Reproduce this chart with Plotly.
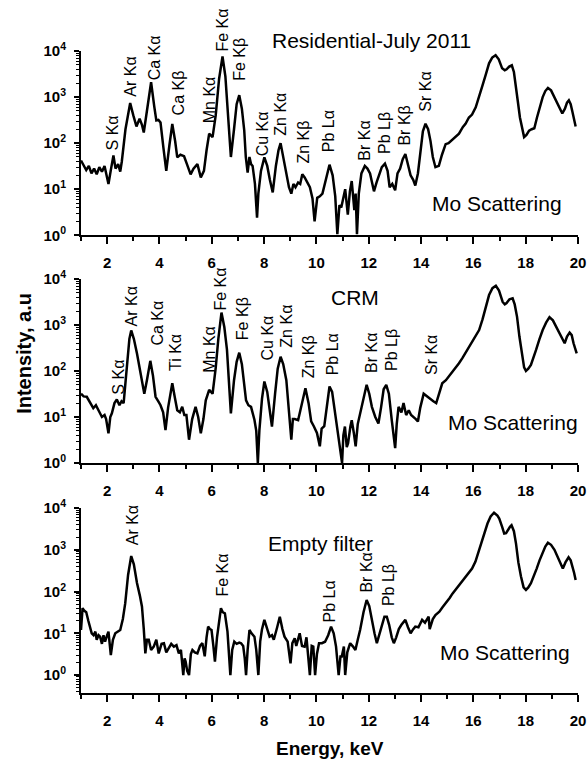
import plotly.graph_objects as go

# ---------------- data ----------------
res_E = [1.00,1.10,1.20,1.30,1.40,1.50,1.60,1.70,1.80,1.90,2.05,2.15,2.24,2.32,2.42,2.50,2.56,2.70,2.88,3.00,
         3.12,3.24,3.33,3.40,3.52,3.68,3.80,3.88,3.96,4.04,4.15,4.26,4.38,4.49,4.60,4.68,4.80,4.94,5.05,5.19,
         5.30,5.45,5.58,5.70,5.80,5.90,6.03,6.15,6.28,6.41,6.52,6.60,6.73,6.85,6.95,7.05,7.15,7.24,7.30,7.37,
         7.44,7.50,7.56,7.65,7.73,7.78,7.88,8.01,8.12,8.22,8.33,8.45,8.55,8.63,8.72,8.85,8.95,9.04,9.12,9.20,
         9.30,9.38,9.46,9.55,9.65,9.75,9.85,9.93,10.03,10.13,10.23,10.35,10.50,10.62,10.72,10.80,10.88,10.95,11.03,11.10,
         11.20,11.28,11.35,11.45,11.50,11.55,11.62,11.72,11.85,11.95,12.05,12.20,12.30,12.40,12.50,12.62,12.72,12.80,12.90,13.01,
         13.10,13.20,13.30,13.40,13.50,13.60,13.70,13.78,13.88,13.97,14.07,14.17,14.27,14.36,14.45,14.55,14.68,14.80,14.94,15.05,
         15.19,15.30,15.45,15.60,15.70,15.83,15.95,16.09,16.22,16.35,16.48,16.60,16.72,16.85,16.97,17.10,17.20,17.27,17.37,17.47,
         17.55,17.62,17.70,17.78,17.86,17.94,18.03,18.13,18.23,18.33,18.43,18.53,18.65,18.75,18.85,18.97,19.10,19.25,19.40,19.50,
         19.58,19.65,19.72,19.78,19.85,19.91]
res_I = [42,32,26,32,22,28,21,30,24,32,13,28,54,28,35,24,40,200,740,400,
         230,340,250,170,500,2100,630,310,320,280,80,25,90,260,110,49,56,52,35,21,
         28,35,18,25,70,160,135,400,2500,7600,2800,600,50,200,700,1100,560,190,50,23,
         50,35,32,13,2.4,8,25,49,32,16,8.5,32,70,100,56,21,11,8,13,11,
         14,13,21,18,14,11,6.3,2,6.5,7,8,16,34,20,7,1.05,4.5,4,7,10,
         2.8,9,15,3.5,8,1.05,8,22,32,28,22,9,14,20,30,36,25,11,13,9.5,
         22,28,45,58,35,20,16,12,22,70,180,263,200,112,50,30,32,56,95,100,
         117,132,160,224,263,360,417,600,1000,1800,3160,5400,7200,8100,6600,4200,3800,4000,4600,4900,
         3500,1950,800,360,200,135,150,186,200,210,355,600,1000,1350,1580,1400,1000,660,440,560,
         760,850,700,500,330,230]

crm_E = [1.00,1.10,1.22,1.35,1.47,1.57,1.67,1.80,1.90,1.96,2.05,2.12,2.18,2.28,2.37,2.47,2.55,2.63,2.70,2.76,
         2.85,2.92,3.02,3.14,3.28,3.42,3.52,3.65,3.75,3.85,3.95,4.04,4.14,4.23,4.33,4.49,4.58,4.68,4.78,4.87,
         4.95,5.03,5.13,5.25,5.38,5.48,5.58,5.68,5.77,5.90,6.03,6.15,6.25,6.37,6.48,6.58,6.73,6.85,6.95,7.05,
         7.15,7.31,7.40,7.50,7.63,7.70,7.76,7.82,7.92,8.01,8.12,8.22,8.30,8.42,8.52,8.63,8.73,8.85,8.91,8.97,
         9.04,9.10,9.17,9.30,9.45,9.58,9.70,9.80,9.90,10.02,10.13,10.20,10.30,10.40,10.50,10.60,10.70,10.80,10.90,10.98,
         11.03,11.09,11.16,11.21,11.30,11.35,11.43,11.50,11.58,11.67,11.80,11.92,12.02,12.12,12.25,12.37,12.47,12.57,12.67,12.77,
         12.88,12.95,13.01,13.07,13.14,13.25,13.33,13.43,13.53,13.62,13.72,13.80,13.88,13.97,14.10,14.22,14.36,14.47,14.58,14.70,
         14.81,14.95,15.06,15.20,15.32,15.45,15.58,15.70,15.83,15.95,16.08,16.22,16.35,16.47,16.60,16.73,16.86,16.98,17.12,17.20,
         17.27,17.38,17.50,17.58,17.67,17.76,17.86,17.94,18.01,18.10,18.20,18.30,18.40,18.52,18.65,18.78,18.91,19.04,19.17,19.33,
         19.49,19.58,19.68,19.76,19.83,19.95]
crm_I = [32,28,27.5,20,15.5,18,14,10,11,9,4.4,10,12,20,24,18,22,20,56,126,
         500,760,500,240,89,32,63,166,80,27.5,22,18,12.6,5.2,16,54,28,14,12.6,16.6,
         11,11,3.2,9,16.6,10,4.4,9,23,39,32,117,500,1860,890,290,12,63,158,250,
         141,23,18,16.6,8.7,5,1,5.2,25,59,35,12.6,6.2,32,112,204,141,63,25,8,
         3.2,9,9,8.5,22,42,20,8,6.3,4.5,2.3,5.6,6.3,20,46,35,14,5,1.9,1,
         4,6.2,2.2,2.7,6.3,8.5,4.5,2.3,7,12,25,50,32,16.6,10,7.2,16,40,50,32,
         8.5,4.5,2.1,7,16.6,12.6,20,11,14,11,10,9,8,16,32,28,25,22,20,35,
         54,63,76,93,112,148,190,250,340,417,560,776,1320,2500,4470,6300,7100,5600,3160,2800,
         3000,3630,3800,2800,1500,560,204,120,100,112,135,190,290,480,776,1120,1480,1260,910,600,
         400,560,680,600,400,240]

emp_E = [1.00,1.06,1.12,1.20,1.28,1.35,1.41,1.48,1.55,1.60,1.67,1.73,1.80,1.86,1.92,2.00,2.05,2.14,2.22,2.31,
         2.40,2.50,2.60,2.69,2.80,2.92,3.02,3.14,3.25,3.33,3.40,3.46,3.52,3.59,3.68,3.78,3.88,3.97,4.08,4.17,
         4.26,4.36,4.45,4.55,4.65,4.74,4.82,4.91,4.96,5.00,5.06,5.13,5.20,5.26,5.35,5.45,5.55,5.64,5.73,5.80,
         5.86,5.93,5.99,6.06,6.12,6.20,6.28,6.35,6.42,6.50,6.60,6.66,6.71,6.78,6.86,6.95,7.05,7.12,7.20,7.26,
         7.31,7.37,7.44,7.52,7.63,7.70,7.78,7.85,7.92,8.01,8.10,8.21,8.30,8.37,8.50,8.60,8.70,8.78,8.90,9.01,
         9.08,9.17,9.23,9.30,9.36,9.45,9.55,9.62,9.70,9.75,9.82,9.88,9.95,10.02,10.10,10.21,10.33,10.45,10.56,10.66,
         10.75,10.85,10.92,10.97,11.05,11.10,11.18,11.29,11.40,11.49,11.58,11.67,11.80,11.92,12.02,12.12,12.22,12.31,12.40,12.50,
         12.60,12.69,12.78,12.88,12.96,13.05,13.15,13.25,13.40,13.50,13.60,13.70,13.78,13.90,14.04,14.15,14.29,14.33,14.45,14.55,
         14.70,14.82,14.94,15.10,15.20,15.32,15.45,15.58,15.70,15.83,15.95,16.08,16.22,16.35,16.45,16.54,16.66,16.79,16.92,16.99,
         17.10,17.18,17.25,17.31,17.40,17.46,17.55,17.63,17.72,17.82,17.92,18.01,18.10,18.20,18.30,18.42,18.53,18.65,18.75,18.85,
         18.97,19.10,19.25,19.42,19.52,19.64,19.72,19.78,19.85,19.91]
emp_I = [12,40,35,32,20,14,10,9,11,7,9,8.3,5.6,9,6.3,9,11,3,7,10,
         11,12,22,52,250,710,450,160,80,44,12.6,3.3,7,7,4,4.8,7,3.3,5.6,5.8,
         3.5,4.4,5.6,4.8,5.2,3.3,4,1,2.5,2.1,1.26,1,3.2,4,3.5,3.3,5,5.8,2.8,8,
         14.5,12.6,12,5,2.1,8,22,40,32,30,11,3.2,1,4,6.3,5.6,6,5.8,5,2.5,
         1,4,12,10,8.3,4,1,6.3,12.6,21,14,8.3,9,7,14,25,12.6,8.3,6.3,1.9,
         5.8,7.6,5,7,10,5,4.8,8,2.5,1,5,4.8,1,3.2,5.8,5.8,6.3,9,14.5,10,
         4.8,1,2.8,2.8,4.8,1,3.5,5.8,4.8,4,7,12,32,63,45,20,10,5.8,9,14.5,
         25,25,16,8,5.8,8,12.6,16,21,14,10,12.6,14.5,14,21,18,25,12.6,22,27.5,
         33,42,52,71,89,110,138,178,224,275,355,525,977,1780,2800,4270,6300,7760,6600,5600,
         3550,2450,2500,2950,3550,3890,2800,1410,500,230,126,110,126,158,224,355,560,890,1200,1480,
         1320,1000,600,355,500,660,560,417,282,190]

# peak labels: (text, energy, log10 of label bottom)
res_labels = [("S Kα",2.19,1.79),("Ar Kα",2.88,2.97),("Ca Kα",3.81,3.32),("Ca Kβ",4.73,2.56),
              ("Mn Kα",5.90,2.38),("Fe Kα",6.42,3.95),("Fe Kβ",7.08,3.30),("Cu Kα",7.92,1.66),
              ("Zn Kα",8.63,2.12),("Zn Kβ",9.50,1.51),("Pb Lα",10.46,1.77),("Br Kα",11.85,1.57),
              ("Pb Lβ",12.60,1.73),("Br Kβ",13.38,1.90),("Sr Kα",14.19,2.64)]
crm_labels = [("S Kα",2.43,1.44),("Ar Kα",2.92,2.93),("Ca Kα",3.91,2.50),("Ti Kα",4.64,1.95),
              ("Mn Kα",5.90,1.91),("Fe Kα",6.35,3.28),("Fe Kβ",7.18,2.63),("Cu Kα",8.14,2.19),
              ("Zn Kα",8.85,2.46),("Zn Kβ",9.70,1.80),("Pb Lα",10.65,1.87),("Br Kα",12.08,1.91),
              ("Pb Lβ",12.88,1.95),("Sr Kα",14.42,1.87)]
emp_labels = [("Ar Kα",3.00,3.07),("Fe Kα",6.42,1.84),("Pb Lα",10.50,1.20),
              ("Br Kα",11.92,1.92),("Pb Lβ",12.73,1.60)]

panel_titles = ["Residential-July 2011", "CRM", "Empty filter"]
x_ticks = [2, 4, 6, 8, 10, 12, 14, 16, 18, 20]
x_minor = [1, 3, 5, 7, 9, 11, 13, 15, 17, 19]
y_ticks = [1, 10, 100, 1000, 10000]
y_ticktext = ["10<sup>0</sup>", "10<sup>1</sup>", "10<sup>2</sup>", "10<sup>3</sup>", "10<sup>4</sup>"]
y_minor = [m * 10 ** d for d in range(-1, 4) for m in range(2, 10)]

# ---------------- figure ----------------
FONT = "Liberation Sans, Arial, sans-serif"
fig = go.Figure()
series = [(res_E, res_I), (crm_E, crm_I), (emp_E, emp_I)]
for i, (E, I) in enumerate(series):
    sfx = "" if i == 0 else str(i + 1)
    fig.add_trace(go.Scatter(x=E, y=I, mode="lines", xaxis="x" + sfx, yaxis="y" + sfx,
                             line=dict(color="black", width=2.5), showlegend=False,
                             hoverinfo="skip"))

domains = [[0.713, 1.0], [0.3583, 0.6449], [0.0, 0.288]]
yranges = [[0, 4], [0, 4], [-0.43, 4]]
for i in range(3):
    sfx = "" if i == 0 else str(i + 1)
    fig.layout["xaxis" + sfx] = dict(
        domain=[0, 1], anchor="y" + sfx, range=[1, 20], tickvals=x_ticks, automargin=False,
        ticks="outside", ticklen=7, tickwidth=2, tickcolor="black", ticklabeloverflow="allow",
        ticklabelstandoff=6,
        showline=True, linewidth=2, linecolor="black", showgrid=False, zeroline=False,
        tickfont=dict(family=FONT, size=15, color="black", weight="bold"),
        minor=dict(tickvals=x_minor, ticks="outside",
                   ticklen=4, tickwidth=2, tickcolor="black", showgrid=False))
    fig.layout["yaxis" + sfx] = dict(
        domain=domains[i], anchor="x" + sfx, type="log", range=yranges[i], automargin=False,
        tickvals=y_ticks, ticktext=y_ticktext, ticks="outside", ticklen=5, tickwidth=2,
        tickcolor="black", ticklabelstandoff=5,
        showline=True, linewidth=2, linecolor="black", showgrid=False, zeroline=False,
        tickfont=dict(family=FONT, size=15, color="black", weight="bold"),
        minor=dict(tickvals=y_minor, ticks="outside", ticklen=3, tickwidth=1,
                   tickcolor="black", showgrid=False))

ann = []
for i, labels in enumerate([res_labels, crm_labels, emp_labels]):
    sfx = "" if i == 0 else str(i + 1)
    for txt, e, ly in labels:
        ann.append(dict(text=txt, x=e, y=ly, xref="x" + sfx, yref="y" + sfx,
                        textangle=-90, xanchor="center", yanchor="bottom", showarrow=False,
                        font=dict(family=FONT, size=16, color="black")))

# titles: (energy, paper-y)
title_pos = [(12.12, 1.017), (11.46, 0.616), (10.15, 0.2335)]
mo_pos = [(16.9, 0.68), (17.5, 0.87), (17.2, 0.53)]
for i in range(3):
    sfx = "" if i == 0 else str(i + 1)
    ann.append(dict(text=panel_titles[i], x=title_pos[i][0], y=title_pos[i][1],
                    xref="x" + sfx, yref="paper", showarrow=False,
                    xanchor="center", yanchor="middle",
                    font=dict(family=FONT, size=21, color="black")))
    ann.append(dict(text="Mo Scattering", x=mo_pos[i][0], y=mo_pos[i][1],
                    xref="x" + sfx, yref="y" + sfx, showarrow=False,
                    xanchor="center", yanchor="middle",
                    font=dict(family=FONT, size=21, color="black")))

ann.append(dict(text="Intensity, a.u", x=-0.115, y=0.5296, xref="paper", yref="paper",
                textangle=-90, showarrow=False, xanchor="center", yanchor="middle",
                font=dict(family=FONT, size=20, color="black", weight="bold")))
ann.append(dict(text="Energy, keV", x=0.501, y=-0.0857, xref="paper", yref="paper",
                showarrow=False, xanchor="center", yanchor="middle",
                font=dict(family=FONT, size=19, color="black", weight="bold")))

fig.update_layout(width=587, height=759, margin=dict(l=81, r=9, t=51, b=66),
                  plot_bgcolor="white", paper_bgcolor="white", annotations=ann,
                  hovermode=False, autosize=False)
fig.write_html("out.html", config={"displayModeBar": False, "responsive": False},
               post_script="document.body.style.margin='0px';"
                           "document.documentElement.style.overflow='hidden';")
